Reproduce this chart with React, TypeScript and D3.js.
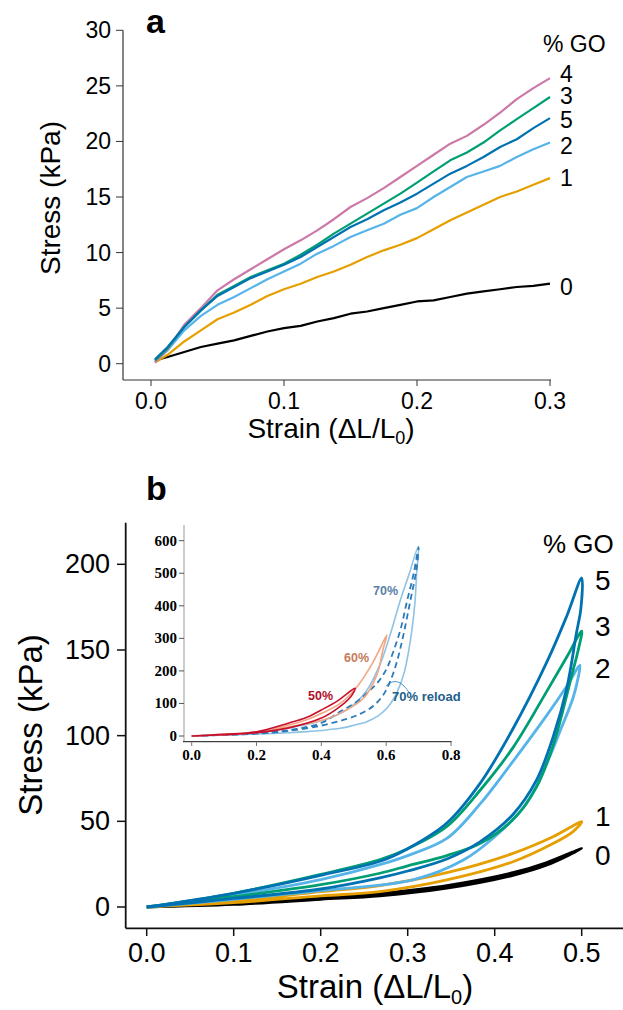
import React from "react";
import * as d3 from "d3";

// ---------- Panel a data ----------
const strainA = [0.003, 0.0125, 0.025, 0.0375, 0.05, 0.0625, 0.075, 0.0875, 0.1, 0.1125, 0.125, 0.1375, 0.15, 0.1625, 0.175, 0.1875, 0.2, 0.2125, 0.225, 0.2375, 0.25, 0.2625, 0.275, 0.2875, 0.3];
const stressA0 = [0.3, 0.6, 1.05, 1.5, 1.8, 2.1, 2.5, 2.9, 3.2, 3.4, 3.8, 4.1, 4.5, 4.7, 5.0, 5.3, 5.6, 5.7, 6.0, 6.3, 6.5, 6.7, 6.9, 7.0, 7.2];
const stressA1 = [0.1, 0.8, 2.0, 3.0, 4.0, 4.6, 5.3, 6.1, 6.7, 7.2, 7.8, 8.3, 8.9, 9.6, 10.2, 10.7, 11.3, 12.1, 12.9, 13.6, 14.3, 15.0, 15.5, 16.1, 16.7];
const stressA2 = [0.2, 1.2, 3.0, 4.3, 5.3, 6.0, 6.8, 7.6, 8.3, 9.0, 9.9, 10.6, 11.4, 12.0, 12.6, 13.4, 14.0, 15.0, 15.9, 16.8, 17.3, 17.8, 18.6, 19.3, 19.9];
const stressA3 = [0.3, 1.4, 3.3, 4.8, 6.2, 7.0, 7.8, 8.4, 9.0, 9.8, 10.7, 11.7, 12.6, 13.5, 14.4, 15.3, 16.3, 17.3, 18.3, 19.0, 19.9, 21.0, 22.0, 23.0, 24.0];
const stressA4 = [0.1, 1.3, 3.5, 5.0, 6.6, 7.6, 8.5, 9.4, 10.3, 11.1, 12.0, 13.0, 14.1, 14.9, 15.8, 16.8, 17.8, 18.8, 19.8, 20.5, 21.5, 22.6, 23.8, 24.8, 25.7];
const stressA5 = [0.4, 1.5, 3.3, 4.8, 6.1, 6.9, 7.7, 8.3, 8.9, 9.6, 10.5, 11.4, 12.3, 13.0, 13.8, 14.5, 15.3, 16.2, 17.1, 17.8, 18.6, 19.5, 20.2, 21.2, 22.1];
const yTicksA = [0, 5, 10, 15, 20, 25, 30];
const xTicksA = [0, 0.1, 0.2, 0.3];
const labelsA = ["4", "3", "5", "2", "1", "0"];
const labelYA = [26.1, 24.1, 21.9, 19.6, 16.7, 6.9];

// ---------- Panel b data (loading then unloading) ----------
const b0Strain = [0, 0.1, 0.2, 0.268, 0.345, 0.421, 0.46, 0.5, 0.46, 0.421, 0.345, 0.268, 0.2, 0.1, 0];
const b0Stress = [0, 2.2, 5.5, 8, 12.5, 20, 26, 34.2, 24.5, 18.5, 11, 6.5, 4.5, 1.5, 0];
const b1Strain = [0, 0.1, 0.2, 0.268, 0.345, 0.421, 0.467, 0.5, 0.49, 0.467, 0.421, 0.345, 0.268, 0.2, 0.1, 0];
const b1Stress = [0, 3.5, 9, 12.5, 20, 31.3, 41, 49.8, 44, 37, 26.4, 15.8, 9, 6.5, 2.5, 0];
const b2Strain = [0, 0.1, 0.2, 0.27, 0.3, 0.345, 0.383, 0.421, 0.46, 0.483, 0.498, 0.496, 0.49, 0.477, 0.46, 0.436, 0.4, 0.364, 0.307, 0.2, 0.1, 0];
const b2Stress = [0, 7, 16, 25, 30, 40, 60, 85, 112, 129, 141, 134, 122, 105, 84, 60, 41, 27.4, 16, 9.5, 4.5, 0];
const b3Strain = [0, 0.1, 0.2, 0.27, 0.3, 0.345, 0.383, 0.421, 0.46, 0.483, 0.5, 0.496, 0.49, 0.483, 0.467, 0.448, 0.421, 0.383, 0.345, 0.3, 0.268, 0.2, 0.1, 0];
const b3Stress = [0, 8, 19, 28, 34, 47, 68, 93, 126, 146, 161, 150, 138, 124, 94, 70, 51, 37, 30, 24, 19.7, 13, 6, 0];
const b5Strain = [0, 0.1, 0.2, 0.27, 0.3, 0.345, 0.383, 0.421, 0.46, 0.483, 0.5, 0.499, 0.494, 0.483, 0.467, 0.448, 0.421, 0.383, 0.345, 0.3, 0.268, 0.2, 0.1, 0];
const b5Stress = [0, 8, 18.5, 27, 34, 49, 72, 104, 143, 170, 192, 174, 160, 128, 99, 74, 54, 38, 28, 21, 17, 10.5, 5, 0];
const yTicksB = [0, 50, 100, 150, 200];
const xTicksB = [0, 0.1, 0.2, 0.3, 0.4, 0.5];
const labelsB = ["5", "3", "2", "1", "0"];
const labelYB = [190.8, 163.5, 139.4, 52.7, 30.3];

// ---------- Inset data ----------
const in50Strain = [0, 0.1, 0.2, 0.3, 0.35, 0.4, 0.45, 0.504, 0.49, 0.45, 0.4, 0.3, 0.2, 0.1, 0];
const in50Stress = [0, 5, 13, 40, 55, 80, 108, 146.5, 120, 85, 55, 25, 10, 4, 0];
const in60Strain = [0, 0.1, 0.2, 0.303, 0.355, 0.406, 0.458, 0.509, 0.56, 0.602, 0.591, 0.571, 0.53, 0.468, 0.406, 0.303, 0.2, 0.1, 0];
const in60Stress = [0, 5, 12, 35, 50, 72, 100, 150, 228, 310, 269, 187, 116, 75, 49, 28.6, 11, 4, 0];
const in70Strain = [0, 0.1, 0.2, 0.25, 0.303, 0.365, 0.427, 0.489, 0.54, 0.581, 0.612, 0.643, 0.67, 0.699, 0.694, 0.689, 0.68, 0.669, 0.657, 0.643, 0.625, 0.602, 0.575, 0.54, 0.5, 0.458, 0.4, 0.355, 0.3, 0.2, 0.1, 0];
const in70Stress = [0, 4, 11, 17, 26, 38, 55, 88, 140, 220, 310, 415, 495, 581.6, 500, 413, 330, 259, 200, 157, 118, 85, 62, 44, 33, 23.6, 17, 13.3, 10, 6, 3, 0];
const inRlStrain = [0, 0.1, 0.2, 0.3, 0.4, 0.458, 0.509, 0.545, 0.576, 0.602, 0.622, 0.645, 0.664, 0.685, 0.7, 0.694, 0.674, 0.653, 0.633, 0.612, 0.591, 0.56, 0.52, 0.47, 0.4, 0.3, 0.2, 0.1, 0];
const inRlStress = [0, 3, 8, 18, 40, 75, 105, 136, 167, 208, 259, 330, 413, 500, 580, 515, 413, 310, 228, 167, 126, 92, 68, 50, 32, 16, 7, 3, 0];
const yTicksI = [0, 100, 200, 300, 400, 500, 600];
const xTicksI = [0, 0.2, 0.4, 0.6, 0.8];

const FONT = "'Liberation Sans', Arial, sans-serif";
const SERIF = "'Liberation Serif', 'Times New Roman', serif";

const zip = (xs: number[], ys: number[]) => xs.map((x, i) => [x, ys[i]] as [number, number]);

export default function App() {
  // Panel a scales
  const xA = d3.scaleLinear().domain([0, 0.3]).range([151, 550]);
  const yA = d3.scaleLinear().domain([0, 30]).range([363.7, 30.3]);
  const lineA = d3.line<[number, number]>().x(d => xA(d[0])).y(d => yA(d[1]));
  const seriesA = [
    { v: stressA0, c: "#000000" },
    { v: stressA1, c: "#E69F00" },
    { v: stressA2, c: "#56B4E9" },
    { v: stressA4, c: "#CC79A7" },
    { v: stressA3, c: "#009E73" },
    { v: stressA5, c: "#0072B2" },
  ];

  // Panel b scales
  const xB = d3.scaleLinear().domain([0, 0.5]).range([146.7, 581.7]);
  const yB = d3.scaleLinear().domain([0, 200]).range([907, 564.3]);
  const lineB = d3.line<[number, number]>().x(d => xB(d[0])).y(d => yB(d[1])).curve(d3.curveCatmullRom.alpha(0.5));
  const seriesB = [
    { s: b0Strain, v: b0Stress, c: "#000000" },
    { s: b1Strain, v: b1Stress, c: "#E69F00" },
    { s: b2Strain, v: b2Stress, c: "#56B4E9" },
    { s: b3Strain, v: b3Stress, c: "#009E73" },
    { s: b5Strain, v: b5Stress, c: "#0072B2" },
  ];

  // Inset scales
  const xI = d3.scaleLinear().domain([0, 0.8]).range([191.7, 451]);
  const yI = d3.scaleLinear().domain([0, 600]).range([736, 540.7]);
  const lineI = d3.line<[number, number]>().x(d => xI(d[0])).y(d => yI(d[1])).curve(d3.curveCatmullRom.alpha(0.5));
  const fmt1 = d3.format(".1f");

  return (
    <svg width={623} height={1010} style={{ position: "absolute", left: 0, top: 0, background: "#fff" }} fontFamily={FONT}>
      {/* ================= Panel a ================= */}
      <text x={146} y={33} fontSize={34} fontWeight="bold">a</text>
      <line x1={123} x2={123} y1={yA(30)} y2={380} stroke="#333" strokeWidth={1.2} />
      <line x1={123} x2={xA(0.3) + 1} y1={380} y2={380} stroke="#333" strokeWidth={1.2} />
      {yTicksA.map(t => (
        <g key={"ya" + t}>
          <line x1={116} x2={123} y1={yA(t)} y2={yA(t)} stroke="#333" strokeWidth={1} />
          <text x={111} y={yA(t)} fontSize={23} textAnchor="end" dominantBaseline="central">{t}</text>
        </g>
      ))}
      {xTicksA.map(t => (
        <g key={"xa" + t}>
          <line x1={xA(t)} x2={xA(t)} y1={380} y2={386} stroke="#333" strokeWidth={1} />
          <text x={xA(t)} y={409} fontSize={23} textAnchor="middle">{fmt1(t)}</text>
        </g>
      ))}
      <text x={331} y={438} fontSize={28} textAnchor="middle">
        Strain (ΔL/L<tspan fontSize={18} dy={6}>0</tspan><tspan dy={-6}>)</tspan>
      </text>
      <text transform="translate(60,198) rotate(-90)" fontSize={28} textAnchor="middle">Stress (kPa)</text>
      {seriesA.map((s, i) => (
        <path key={"la" + i} d={lineA(zip(strainA, s.v)) || ""} fill="none" stroke={s.c} strokeWidth={2.2} strokeLinejoin="round" />
      ))}
      <text x={543} y={52} fontSize={23}>% GO</text>
      {labelsA.map((l, i) => (
        <text key={"lba" + l} x={560} y={yA(labelYA[i])} fontSize={23} dominantBaseline="central">{l}</text>
      ))}

      {/* ================= Panel b ================= */}
      <text x={146} y={500} fontSize={34} fontWeight="bold">b</text>
      <line x1={125.7} x2={125.7} y1={522.7} y2={928.3} stroke="#111" strokeWidth={1.8} />
      <line x1={125.7} x2={623} y1={928.3} y2={928.3} stroke="#111" strokeWidth={1.8} />
      {yTicksB.map(t => (
        <g key={"yb" + t}>
          <line x1={117} x2={125.7} y1={yB(t)} y2={yB(t)} stroke="#111" strokeWidth={1.5} />
          <text x={110} y={yB(t)} fontSize={27} textAnchor="end" dominantBaseline="central">{t}</text>
        </g>
      ))}
      {xTicksB.map(t => (
        <g key={"xb" + t}>
          <line x1={xB(t)} x2={xB(t)} y1={928.3} y2={936} stroke="#111" strokeWidth={1.5} />
          <text x={xB(t)} y={962} fontSize={27} textAnchor="middle">{fmt1(t)}</text>
        </g>
      ))}
      <text x={375} y={998} fontSize={33} textAnchor="middle">
        Strain (ΔL/L<tspan fontSize={20} dy={6}>0</tspan><tspan dy={-6}>)</tspan>
      </text>
      <text transform="translate(42,725) rotate(-90)" fontSize={33} textAnchor="middle">Stress (kPa)</text>
      {seriesB.map((s, i) => (
        <path key={"lb" + i} d={lineB(zip(s.s, s.v)) || ""} fill="none" stroke={s.c} strokeWidth={2.8} strokeLinejoin="round" />
      ))}
      <text x={543} y={553} fontSize={26}>% GO</text>
      {labelsB.map((l, i) => (
        <text key={"lbb" + l} x={595} y={yB(labelYB[i])} fontSize={28} dominantBaseline="central">{l}</text>
      ))}

      {/* ================= Inset ================= */}
      <line x1={184} x2={184} y1={525} y2={741.7} stroke="#bbb" strokeWidth={1.5} />
      <line x1={183} x2={451.7} y1={741.7} y2={741.7} stroke="#111" strokeWidth={1} />
      {yTicksI.map(t => (
        <g key={"yi" + t}>
          <line x1={179} x2={184} y1={yI(t)} y2={yI(t)} stroke="#555" strokeWidth={1} />
          <text x={177} y={yI(t)} fontSize={15} fontFamily={SERIF} fontWeight="bold" textAnchor="end" dominantBaseline="central">{t}</text>
        </g>
      ))}
      {xTicksI.map(t => (
        <g key={"xi" + t}>
          <line x1={xI(t)} x2={xI(t)} y1={741.7} y2={746} stroke="#777" strokeWidth={1} />
          <text x={xI(t)} y={760} fontSize={15} fontFamily={SERIF} fontWeight="bold" textAnchor="middle">{fmt1(t)}</text>
        </g>
      ))}
      <path d={lineI(zip(in70Strain, in70Stress)) || ""} fill="none" stroke="#8ec3e3" strokeWidth={1.6} />
      <path d={lineI(zip(inRlStrain, inRlStress)) || ""} fill="none" stroke="#2b7bba" strokeWidth={1.8} strokeDasharray="6,4" />
      <path d={lineI(zip(in60Strain, in60Stress)) || ""} fill="none" stroke="#f4a582" strokeWidth={1.6} />
      <path d={lineI(zip(in50Strain, in50Stress)) || ""} fill="none" stroke="#c8102e" strokeWidth={1.6} />
      <text x={308} y={700} fontSize={12.5} fontWeight="bold" fill="#b0102a">50%</text>
      <text x={344} y={662} fontSize={12.5} fontWeight="bold" fill="#c77a5a">60%</text>
      <text x={373} y={595} fontSize={12.5} fontWeight="bold" fill="#5b7fa8">70%</text>
      <text x={392} y={701} fontSize={13} fontWeight="bold" fill="#1f5f8b">70% reload</text>
      <path d="M386,686 Q398,674 410,694" fill="none" stroke="#2b7bba" strokeWidth={0.8} />
    </svg>
  );
}
